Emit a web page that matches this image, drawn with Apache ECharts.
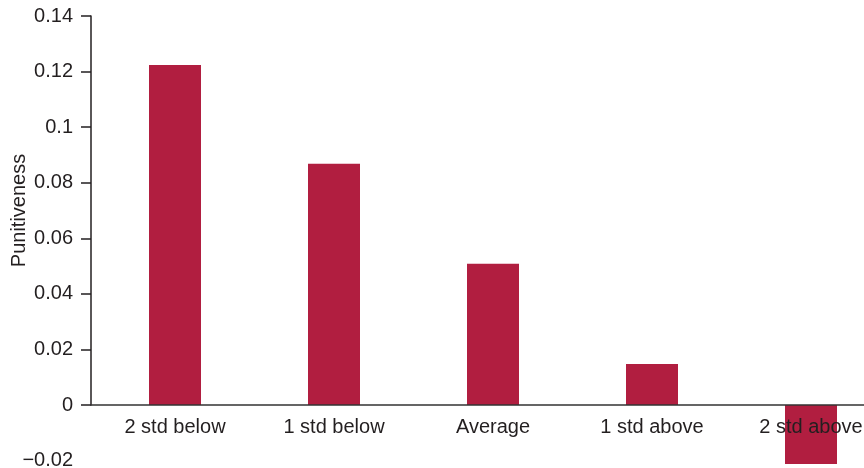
<!DOCTYPE html>
<html>
<head>
<meta charset="utf-8">
<script src="https://cdn.jsdelivr.net/npm/echarts@6/dist/echarts.min.js"></script>
<style>html,body{margin:0;padding:0;background:#fff}#c{width:864px;height:468px}</style>
</head>
<body>
<div id="c"></div>
<script>
var categories = ['2 std below', '1 std below', 'Average', '1 std above', '2 std above'];
var punitiveness = [0.1224, 0.0868, 0.0508, 0.0148, -0.0212];
var yTicks = [-0.02, 0, 0.02, 0.04, 0.06, 0.08, 0.1, 0.12, 0.14];

var FONT = '"Liberation Sans", Arial, Helvetica, sans-serif';
var TXT = '#231f20';
var FS = 20;
var chart = echarts.init(document.getElementById('c'), null, {renderer: 'canvas'});
chart.setOption({
  animation: false,
  textStyle: {fontFamily: FONT},
  grid: [
    {left: 95.5, right: -26.5, top: 16, bottom: 7.4, containLabel: false, outerBoundsMode: 'none'},
    {left: 95.5, right: -26.5, top: 16, bottom: 63, containLabel: false, outerBoundsMode: 'none'},
    {left: 91, right: 0, top: 16, bottom: 63, containLabel: false, outerBoundsMode: 'none'}
  ],
  xAxis: [
    {type: 'category', gridIndex: 0, data: categories, show: false},
    {type: 'category', gridIndex: 1, data: categories, z: 10,
     axisLine: {show: false}, axisTick: {show: false},
     axisLabel: {color: TXT, fontSize: FS, fontFamily: FONT, margin: 12, interval: 0}},
    {type: 'category', gridIndex: 2, data: categories, z: 10,
     axisLine: {show: true, lineStyle: {color: '#333', width: 1.5}}, axisTick: {show: false},
     axisLabel: {show: false}}
  ],
  yAxis: [
    {type: 'value', gridIndex: 0, min: yTicks[0], max: yTicks[yTicks.length - 1], interval: 0.02,
     axisLine: {show: false}, axisTick: {show: false}, splitLine: {show: false},
     axisLabel: {color: TXT, fontSize: FS, fontFamily: FONT, margin: 22.5,
       formatter: function (v) { return String(Math.round(v * 100) / 100).replace('-', '\u2212'); }}},
    {type: 'value', gridIndex: 1, min: 0, max: 0.14, show: false},
    {type: 'value', gridIndex: 2, min: 0, max: 0.14, interval: 0.02,
     name: 'Punitiveness', nameLocation: 'middle', nameRotate: 90, nameGap: 62,
     nameTextStyle: {color: TXT, fontSize: FS, fontFamily: FONT},
     axisLine: {show: true, lineStyle: {color: '#231f20', width: 1.5}},
     axisTick: {show: true, length: 10, lineStyle: {color: '#231f20', width: 1.5}},
     splitLine: {show: false}, axisLabel: {show: false}}
  ],
  series: [{
    type: 'bar', xAxisIndex: 0, yAxisIndex: 0, data: punitiveness,
    barWidth: 52, itemStyle: {color: '#b11e40'}, clip: false
  }]
});
</script>
</body>
</html>
